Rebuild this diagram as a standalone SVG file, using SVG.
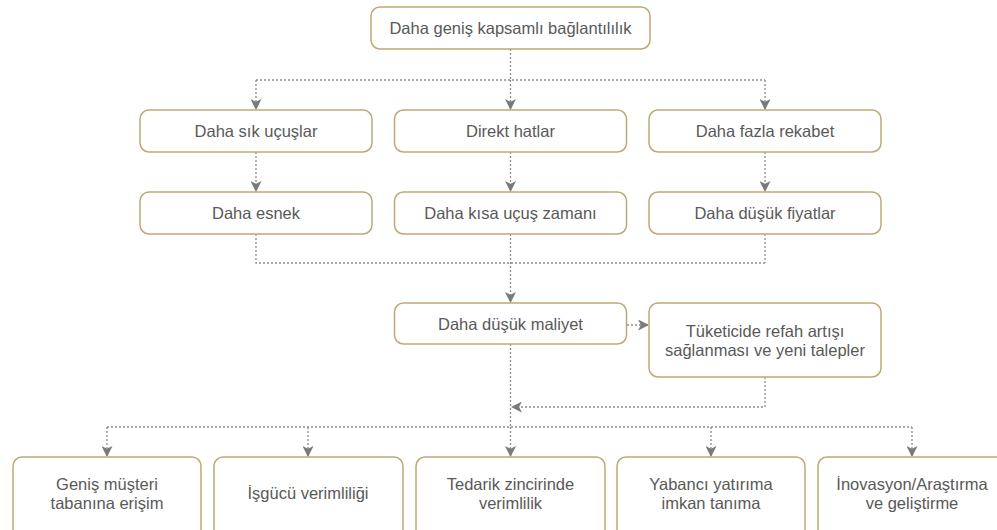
<svg xmlns="http://www.w3.org/2000/svg" width="997" height="530" viewBox="0 0 997 530">
<defs>
<style>
.box{fill:#fff;stroke:#BDA974;stroke-width:1.5}
.t{font-family:"Liberation Sans","Open Sans",sans-serif;font-size:16.5px;fill:#595959;text-anchor:middle;dominant-baseline:central}
.c{fill:none;stroke:#8c8c8c;stroke-width:1.3;stroke-dasharray:2 2}
</style>
<marker id="ah" viewBox="0 0 10 10" refX="9" refY="5" markerWidth="11" markerHeight="11" markerUnits="userSpaceOnUse" orient="auto">
<path d="M0,0 L10,5 L0,10 L2.5,5 Z" fill="#7a7a7a"/>
</marker>
</defs>
<rect width="997" height="530" fill="#fff"/>
<g id="connectors">
<path class="c" d="M510.5 49 V80"/>
<path class="c" d="M256 80 H765"/>
<path class="c" d="M256 80 V109" marker-end="url(#ah)"/>
<path class="c" d="M510.5 80 V109" marker-end="url(#ah)"/>
<path class="c" d="M765 80 V109" marker-end="url(#ah)"/>
<path class="c" d="M256 152 V191" marker-end="url(#ah)"/>
<path class="c" d="M510.5 152 V191" marker-end="url(#ah)"/>
<path class="c" d="M765 152 V191" marker-end="url(#ah)"/>
<path class="c" d="M256 234 V263 H765"/>
<path class="c" d="M765 234 V263"/>
<path class="c" d="M510.5 234 V302" marker-end="url(#ah)"/>
<path class="c" d="M627 325 H648" marker-end="url(#ah)"/>
<path class="c" d="M765 377 V407 H512" marker-end="url(#ah)"/>
<path class="c" d="M510.5 344 V427"/>
<path class="c" d="M107 427 H912"/>
<path class="c" d="M107 427 V456" marker-end="url(#ah)"/>
<path class="c" d="M308 427 V456" marker-end="url(#ah)"/>
<path class="c" d="M510.5 427 V456" marker-end="url(#ah)"/>
<path class="c" d="M711 427 V456" marker-end="url(#ah)"/>
<path class="c" d="M912 427 V456" marker-end="url(#ah)"/>
</g>
<g id="n-top"><rect class="box" x="371" y="7" width="279" height="42" rx="9"/><text class="t" x="510.5" y="28">Daha geniş kapsamlı bağlantılılık</text></g>
<g id="n-sik"><rect class="box" x="140" y="110" width="232" height="42" rx="9"/><text class="t" x="256" y="131">Daha sık uçuşlar</text></g>
<g id="n-direkt"><rect class="box" x="394.5" y="110" width="232" height="42" rx="9"/><text class="t" x="510.5" y="131">Direkt hatlar</text></g>
<g id="n-rekabet"><rect class="box" x="649" y="110" width="232" height="42" rx="9"/><text class="t" x="765" y="131">Daha fazla rekabet</text></g>
<g id="n-esnek"><rect class="box" x="140" y="192" width="232" height="42" rx="9"/><text class="t" x="256" y="213">Daha esnek</text></g>
<g id="n-kisa"><rect class="box" x="394.5" y="192" width="232" height="42" rx="9"/><text class="t" x="510.5" y="213">Daha kısa uçuş zamanı</text></g>
<g id="n-fiyat"><rect class="box" x="649" y="192" width="232" height="42" rx="9"/><text class="t" x="765" y="213">Daha düşük fiyatlar</text></g>
<g id="n-maliyet"><rect class="box" x="394.5" y="303" width="232" height="41" rx="9"/><text class="t" x="510.5" y="324">Daha düşük maliyet</text></g>
<g id="n-refah"><rect class="box" x="649" y="303" width="232" height="74" rx="9"/><text class="t" x="765" y="331">Tüketicide refah artışı</text><text class="t" x="765" y="350">sağlanması ve yeni talepler</text></g>
<g id="n-musteri"><rect class="box" x="13" y="457" width="188" height="82" rx="9"/><text class="t" x="107" y="484">Geniş müşteri</text><text class="t" x="107" y="503">tabanına erişim</text></g>
<g id="n-isgucu"><rect class="box" x="214" y="457" width="189" height="82" rx="9"/><text class="t" x="308" y="493">İşgücü verimliliği</text></g>
<g id="n-tedarik"><rect class="box" x="416" y="457" width="189" height="82" rx="9"/><text class="t" x="510.5" y="484">Tedarik zincirinde</text><text class="t" x="510.5" y="503">verimlilik</text></g>
<g id="n-yabanci"><rect class="box" x="617" y="457" width="188" height="82" rx="9"/><text class="t" x="711" y="484">Yabancı yatırıma</text><text class="t" x="711" y="503">imkan tanıma</text></g>
<g id="n-inovasyon"><rect class="box" x="818" y="457" width="189" height="82" rx="9"/><text class="t" x="912" y="484">İnovasyon/Araştırma</text><text class="t" x="912" y="503">ve geliştirme</text></g>
</svg>
